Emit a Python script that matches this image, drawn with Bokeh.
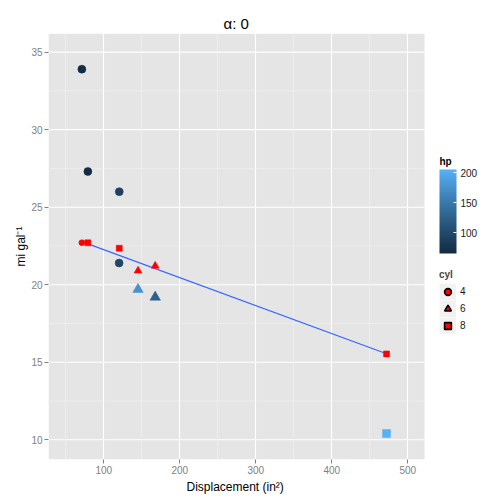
import math
from bokeh.plotting import figure
from bokeh.models import (ColumnDataSource, Range1d, FixedTicker, LinearColorMapper,
                          ColorBar, Legend, LegendItem, Label, BoxAnnotation, Title)
from bokeh.embed import file_html
from bokeh.resources import INLINE

# ---------------- data ----------------
disp = [71.1, 79.0, 120.3, 120.1, 145.0, 167.6, 472.0]
mpg = [33.9, 27.3, 26.0, 21.4, 19.7, 19.2, 10.4]
hp = [65, 66, 91, 97, 175, 123, 205]
cyl = ["4", "4", "4", "4", "6", "6", "8"]

red_disp = [71.1, 79.0, 120.3, 145.0, 167.6, 472.0]
red_mpg = [22.71, 22.70, 22.35, 20.90, 21.21, 15.54]
red_cyl = ["4", "8", "8", "6", "6", "8"]

fit_disp = [71.1, 472.0]
fit_mpg = [22.78, 15.55]

x_ticks = [100, 200, 300, 400, 500]
x_minor = [50, 150, 250, 350, 450]
y_ticks = [10, 15, 20, 25, 30, 35]
y_minor = [12.5, 17.5, 22.5, 27.5, 32.5]
hp_ticks = [100, 150, 200]
cyl_levels = ["4", "6", "8"]

# panel limits (data units)
x_lo, x_hi = 27.2, 522.0
y_lo, y_hi = 8.73, 36.2
x_view_hi = 627.2   # frame extends to the right to hold the legends

# ---------------- palette (Lab interpolation like ggplot) ----------------
def _srgb_to_lin(c):
    c = c / 255.0
    return c / 12.92 if c <= 0.04045 else ((c + 0.055) / 1.055) ** 2.4

def _lin_to_srgb(c):
    c = max(0.0, min(1.0, c))
    v = 12.92 * c if c <= 0.0031308 else 1.055 * c ** (1 / 2.4) - 0.055
    return int(round(v * 255))

def _to_lab(hexc):
    r, g, b = [_srgb_to_lin(int(hexc[i:i + 2], 16)) for i in (1, 3, 5)]
    X = 0.4124 * r + 0.3576 * g + 0.1805 * b
    Y = 0.2126 * r + 0.7152 * g + 0.0722 * b
    Z = 0.0193 * r + 0.1192 * g + 0.9505 * b
    xn, yn, zn = 0.95047, 1.0, 1.08883
    def f(t):
        return t ** (1 / 3) if t > 0.008856 else 7.787 * t + 16 / 116
    fx, fy, fz = f(X / xn), f(Y / yn), f(Z / zn)
    return (116 * fy - 16, 500 * (fx - fy), 200 * (fy - fz))

def _from_lab(L, a, b):
    fy = (L + 16) / 116
    fx = fy + a / 500
    fz = fy - b / 200
    def finv(t):
        return t ** 3 if t ** 3 > 0.008856 else (t - 16 / 116) / 7.787
    X, Y, Z = 0.95047 * finv(fx), finv(fy), 1.08883 * finv(fz)
    r = 3.2406 * X - 1.5372 * Y - 0.4986 * Z
    g = -0.9689 * X + 1.8758 * Y + 0.0415 * Z
    bb = 0.0557 * X - 0.2040 * Y + 1.0570 * Z
    return "#%02x%02x%02x" % (_lin_to_srgb(r), _lin_to_srgb(g), _lin_to_srgb(bb))

lo_lab, hi_lab = _to_lab("#132B43"), _to_lab("#56B1F7")
palette = [_from_lab(*[lo_lab[k] + (hi_lab[k] - lo_lab[k]) * i / 255 for k in range(3)])
           for i in range(256)]
mapper = LinearColorMapper(palette=palette, low=min(hp), high=max(hp))

shape_of = {"4": "circle", "6": "triangle", "8": "square"}
big_size = {"4": 8, "6": 10.5, "8": 8}
small_size = {"4": 6, "6": 8, "8": 6}

FONT = "Liberation Sans"

p = figure(width=504, height=504, output_backend="svg", toolbar_location=None,
           x_range=Range1d(x_lo, x_view_hi), y_range=Range1d(y_lo, y_hi),
           min_border_left=48, min_border_right=0, min_border_top=33, min_border_bottom=45)

p.background_fill_color = "white"
p.border_fill_color = "white"
p.outline_line_color = None

# grey panel
p.add_layout(BoxAnnotation(left=x_lo, right=x_hi, bottom=y_lo, top=y_hi,
                           fill_color="#E5E5E5", fill_alpha=1, line_color=None,
                           level="image"))

p.title.text = "α: 0"
p.title.align = "left"
p.title.offset = 175
p.title.text_font = FONT
p.title.text_font_size = "15px"
p.title.text_font_style = "normal"
p.title.text_color = "black"
p.title.standoff = 4

p.xaxis.ticker = FixedTicker(ticks=x_ticks, minor_ticks=x_minor)
p.yaxis.ticker = FixedTicker(ticks=y_ticks, minor_ticks=y_minor)
p.xaxis.bounds = (x_lo, x_hi)
p.yaxis.axis_label = "mi gal⁻¹"
for ax in (p.xaxis, p.yaxis):
    ax.axis_line_color = None
    ax.major_tick_line_color = "#7F7F7F"
    ax.major_tick_out = 4
    ax.major_tick_in = 0
    ax.minor_tick_line_color = None
    ax.major_label_text_color = "#7F7F7F"
    ax.major_label_text_font = FONT
    ax.major_label_text_font_size = "10px"
    ax.major_label_standoff = 2
    ax.axis_label_text_font = FONT
    ax.axis_label_text_font_size = "12px"
    ax.axis_label_text_font_style = "normal"
    ax.axis_label_text_color = "black"
p.yaxis.axis_label_standoff = 0

# x axis title centred under the grey panel
xlab = Title(text="Displacement (in²)", align="left", offset=138,
             text_font=FONT, text_font_size="12px", text_font_style="normal",
             text_color="black", standoff=2)
p.add_layout(xlab, "below")

# vertical grid lines via the grid, horizontal ones limited to the panel
p.xgrid.grid_line_color = "white"
p.xgrid.grid_line_width = 1.1
p.xgrid.minor_grid_line_color = "#F2F2F2"
p.xgrid.minor_grid_line_width = 0.6
p.ygrid.grid_line_color = None
p.ygrid.minor_grid_line_color = None
p.segment(x0=[x_lo] * len(y_minor), x1=[x_hi] * len(y_minor), y0=y_minor, y1=y_minor,
          line_color="#F2F2F2", line_width=0.6, level="underlay")
p.segment(x0=[x_lo] * len(y_ticks), x1=[x_hi] * len(y_ticks), y0=y_ticks, y1=y_ticks,
          line_color="white", line_width=1.1, level="underlay")

# ---------------- glyphs ----------------
src = ColumnDataSource(dict(disp=disp, mpg=mpg, hp=hp, cyl=cyl,
                            marker=[shape_of[c] for c in cyl],
                            size=[big_size[c] for c in cyl]))
p.scatter(x="disp", y="mpg", marker="marker", size="size", source=src,
          fill_color={"field": "hp", "transform": mapper},
          line_color={"field": "hp", "transform": mapper}, line_width=0.5)

p.line(x=fit_disp, y=fit_mpg, line_color="#3366FF", line_width=1.1)

rsrc = ColumnDataSource(dict(disp=red_disp, mpg=red_mpg,
                             marker=[shape_of[c] for c in red_cyl],
                             size=[small_size[c] for c in red_cyl]))
p.scatter(x="disp", y="mpg", marker="marker", size="size", source=rsrc,
          fill_color="red", line_color="red", line_width=0.5)

# ---------------- colour bar (hp) ----------------
cb = ColorBar(color_mapper=mapper, ticker=FixedTicker(ticks=hp_ticks),
              width=17, height=84, location=(391, 206), padding=0, margin=0,
              major_label_text_font=FONT, major_label_text_font_size="10px",
              major_label_text_color="#1A1A1A", label_standoff=4,
              major_tick_line_color="white", major_tick_in=3, major_tick_out=0,
              bar_line_color=None, border_line_color=None, background_fill_alpha=0)
p.add_layout(cb, "center")

hp_title = Label(x=391, y=298, x_units="screen", y_units="screen", text="hp",
                 text_font=FONT, text_font_size="10px", text_font_style="bold",
                 text_color="black", text_baseline="middle", text_align="left")
p.add_layout(hp_title, "center")

# ---------------- legend (cyl) ----------------
off = [-1000]
key_bg = p.line(x=off, y=off, line_color="#F2F2F2", line_width=17)
items = []
for c in cyl_levels:
    r = p.scatter(x=off, y=off, marker=shape_of[c], fill_color="red",
                  line_color="black", line_width=1.6)
    items.append(LegendItem(label=c, renderers=[key_bg, r]))

leg = Legend(items=items, title="cyl", location=(391, 125),
             glyph_width=17, glyph_height=17, spacing=0, padding=0, margin=0,
             label_standoff=4, label_height=10,
             label_text_font=FONT, label_text_font_size="10px", label_text_color="#1A1A1A",
             title_text_font=FONT, title_text_font_size="10px", title_text_font_style="bold",
             title_standoff=3, border_line_color=None, background_fill_alpha=0)
p.add_layout(leg, "center")

open("out.html", "w").write(file_html(p, INLINE))
